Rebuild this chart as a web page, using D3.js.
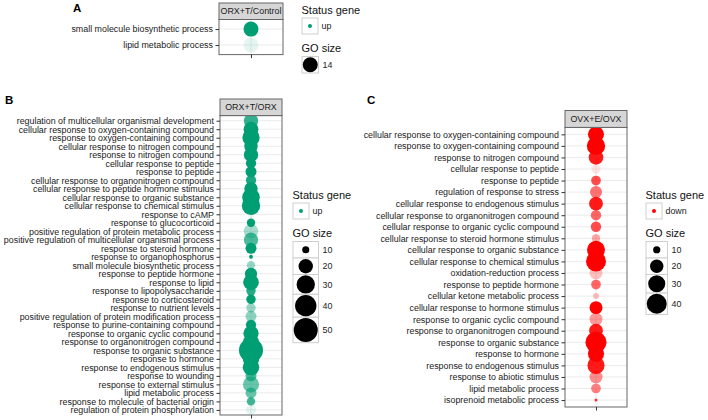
<!DOCTYPE html>
<html>
<head>
<meta charset="utf-8">
<script src="https://cdn.jsdelivr.net/npm/d3@7"></script>
<style>
body { margin: 0; background: #fff; }
svg { font-family: "Liberation Sans", Arial, sans-serif; }
</style>
</head>
<body>
<div id="chart"></div>
<script>
// data (GO size = gene count, alpha = shade of the dot)
var facetA = "ORX+T/Control";
var termsA = ["small molecule biosynthetic process", "lipid metabolic process"];
var sizeA = [14, 14];
var alphaA = [1, 0.1];
var breaksA = [14];

var facetB = "ORX+T/ORX";
var termsB = [
  "regulation of multicellular organismal development",
  "cellular response to oxygen-containing compound",
  "response to oxygen-containing compound",
  "cellular response to nitrogen compound",
  "response to nitrogen compound",
  "cellular response to peptide",
  "response to peptide",
  "cellular response to organonitrogen compound",
  "cellular response to peptide hormone stimulus",
  "cellular response to organic substance",
  "cellular response to chemical stimulus",
  "response to cAMP",
  "response to glucocorticoid",
  "positive regulation of protein metabolic process",
  "positive regulation of multicellular organismal process",
  "response to steroid hormone",
  "response to organophosphorus",
  "small molecule biosynthetic process",
  "response to peptide hormone",
  "response to lipid",
  "response to lipopolysaccharide",
  "response to corticosteroid",
  "response to nutrient levels",
  "positive regulation of protein modification process",
  "response to purine-containing compound",
  "response to organic cyclic compound",
  "response to organonitrogen compound",
  "response to organic substance",
  "response to hormone",
  "response to endogenous stimulus",
  "response to wounding",
  "response to external stimulus",
  "lipid metabolic process",
  "response to molecule of bacterial origin",
  "regulation of protein phosphorylation"
];
var sizeB = [20, 21, 27, 18, 20, 13, 14, 13, 18, 28, 30, 10, 11, 20, 20, 14, 9, 11,
  16, 23, 12, 12, 12, 14, 13, 22, 23, 50, 25, 25, 14, 24, 14, 11, 13];
var alphaB = [0.8, 1, 1, 1, 1, 1, 1, 0.9, 1, 1, 1, 0.08, 1, 0.35, 0.7, 1, 1, 0.4,
  1, 1, 0.85, 1, 0.4, 0.45, 1, 1, 1, 1, 1, 1, 0.7, 0.6, 0.6, 0.75, 0.1];
var breaksB = [10, 20, 30, 40, 50];

var facetC = "OVX+E/OVX";
var termsC = [
  "cellular response to oxygen-containing compound",
  "response to oxygen-containing compound",
  "response to nitrogen compound",
  "cellular response to peptide",
  "response to peptide",
  "regulation of response to stress",
  "cellular response to endogenous stimulus",
  "cellular response to organonitrogen compound",
  "cellular response to organic cyclic compound",
  "cellular response to steroid hormone stimulus",
  "cellular response to organic substance",
  "cellular response to chemical stimulus",
  "oxidation-reduction process",
  "response to peptide hormone",
  "cellular ketone metabolic process",
  "cellular response to hormone stimulus",
  "response to organic cyclic compound",
  "response to organonitrogen compound",
  "response to organic substance",
  "response to hormone",
  "response to endogenous stimulus",
  "response to abiotic stimulus",
  "lipid metabolic process",
  "isoprenoid metabolic process"
];
var sizeC = [27, 34, 23, 12, 13, 17, 21, 14, 14, 11, 33, 40, 19, 13, 9, 19, 19, 21,
  44, 27, 30, 19, 13, 8];
var alphaC = [1, 1, 0.9, 0.1, 0.7, 0.55, 0.9, 0.6, 0.7, 0.35, 1, 1, 0.25, 0.6, 0.25,
  1, 0.4, 0.9, 1, 1, 0.9, 0.45, 0.5, 0.8];
var breaksC = [10, 20, 30, 40];

var colorUp = "#009E73";
var colorDown = "#FF0000";

var svgWidth = 708;
var svgHeight = 420;
var labelSize = "8.9px";

var svg = d3.select("#chart")
  .append("svg")
  .attr("width", svgWidth)
  .attr("height", svgHeight);

// ggplot-like area scale: radius grows with sqrt of (value - min)
function sizeScale(sizes, rRange) {
  var lo = d3.min(sizes);
  var s = d3.scaleSqrt().domain([0, d3.max(sizes) - lo]).range(rRange);
  return function(v) { return s(Math.max(0, v - lo)); };
}

function drawPanel(p) {
  var x = d3.scalePoint().domain([p.facet]).range([p.left, p.right]).padding(0.5);
  var y = d3.scalePoint().domain(p.terms).range([p.top, p.bottom]).padding(0.6);
  var g = svg.append("g");

  g.append("rect")
    .attr("x", p.left).attr("y", p.top)
    .attr("width", p.right - p.left).attr("height", p.bottom - p.top)
    .attr("fill", "#fff");

  // grid lines
  g.selectAll(".hgrid")
    .data(p.terms)
    .enter()
    .append("line")
    .attr("x1", p.left).attr("x2", p.right)
    .attr("y1", d => y(d)).attr("y2", d => y(d))
    .attr("stroke", "#ebebeb")
    .attr("stroke-width", 1);
  g.append("line")
    .attr("x1", x(p.facet)).attr("x2", x(p.facet))
    .attr("y1", p.top).attr("y2", p.bottom)
    .attr("stroke", "#ebebeb")
    .attr("stroke-width", 1);

  // dots
  g.selectAll(".dot")
    .data(p.terms)
    .enter()
    .append("circle")
    .attr("cx", x(p.facet))
    .attr("cy", d => y(d))
    .attr("r", (d, i) => p.r(p.sizes[i]))
    .attr("fill", p.color)
    .attr("fill-opacity", (d, i) => p.alphas[i]);

  // border + strip
  g.append("rect")
    .attr("x", p.left).attr("y", p.top)
    .attr("width", p.right - p.left).attr("height", p.bottom - p.top)
    .attr("fill", "none")
    .attr("stroke", "#666");
  g.append("rect")
    .attr("x", p.left).attr("y", p.stripTop)
    .attr("width", p.right - p.left).attr("height", p.top - p.stripTop)
    .attr("fill", "#d6d6d6")
    .attr("stroke", "#666");
  g.append("text")
    .attr("x", (p.left + p.right) / 2)
    .attr("y", (p.stripTop + p.top) / 2)
    .attr("dy", "0.35em")
    .attr("text-anchor", "middle")
    .attr("font-size", labelSize)
    .attr("fill", "#1a1a1a")
    .text(p.facet);

  // axes
  var yAxis = g.append("g")
    .attr("transform", `translate(${p.left}, 0)`)
    .call(d3.axisLeft(y).tickSize(3.5).tickPadding(2.5));
  yAxis.select(".domain").remove();
  yAxis.selectAll("line").attr("stroke", "#333");
  yAxis.selectAll("text")
    .attr("font-size", labelSize)
    .attr("font-family", "Liberation Sans, Arial, sans-serif")
    .attr("fill", "#1a1a1a");

  var xAxis = g.append("g")
    .attr("transform", `translate(0, ${p.bottom})`)
    .call(d3.axisBottom(x).tickSize(3.5).tickFormat(""));
  xAxis.select(".domain").remove();
  xAxis.selectAll("line").attr("stroke", "#333");

  // panel letter
  svg.append("text")
    .attr("x", p.letterX).attr("y", p.letterY)
    .attr("font-size", "11.5px")
    .attr("font-weight", "bold")
    .attr("fill", "#000")
    .text(p.letter);
}

function drawLegend(p) {
  var g = svg.append("g");
  g.append("text")
    .attr("x", p.x).attr("y", p.y)
    .attr("dy", "0.35em")
    .attr("font-size", "11px")
    .attr("fill", "#111")
    .text("Status gene");
  g.append("rect")
    .attr("x", p.x + 0.5).attr("y", p.y + 8)
    .attr("width", 16).attr("height", 16)
    .attr("fill", "#fff")
    .attr("stroke", "#cfcfcf");
  g.append("circle")
    .attr("cx", p.x + 8.5).attr("cy", p.y + 16)
    .attr("r", 2)
    .attr("fill", p.color);
  g.append("text")
    .attr("x", p.x + 20).attr("y", p.y + 16)
    .attr("dy", "0.35em")
    .attr("font-size", labelSize)
    .attr("fill", "#222")
    .text(p.status);

  var titleY = p.y + 38.5;
  g.append("text")
    .attr("x", p.x).attr("y", titleY)
    .attr("dy", "0.35em")
    .attr("font-size", "11px")
    .attr("fill", "#111")
    .text("GO size");

  var keyH = p.breaks.map(b => Math.max(16.5, 2 * p.r(b) + 1.5));
  var keyW = d3.max(keyH);
  var top = titleY + 8;
  p.breaks.forEach(function(b, i) {
    g.append("rect")
      .attr("x", p.x + 0.5).attr("y", top)
      .attr("width", keyW).attr("height", keyH[i])
      .attr("fill", "#fff")
      .attr("stroke", "#cfcfcf");
    g.append("circle")
      .attr("cx", p.x + 0.5 + keyW / 2).attr("cy", top + keyH[i] / 2)
      .attr("r", p.r(b))
      .attr("fill", "#000");
    g.append("text")
      .attr("x", p.x + keyW + 4.5).attr("y", top + keyH[i] / 2)
      .attr("dy", "0.35em")
      .attr("font-size", labelSize)
      .attr("fill", "#222")
      .text(b);
    top += keyH[i];
  });
}

var rA = sizeScale(sizeA, [7.5, 7.5]);
var rB = sizeScale(sizeB, [2, 12]);
var rC = sizeScale(sizeC, [1.5, 10.5]);

drawPanel({ facet: facetA, terms: termsA, sizes: sizeA, alphas: alphaA, color: colorUp, r: rA,
  left: 219, right: 283, stripTop: 3, top: 19.5, bottom: 54.6,
  letter: "A", letterX: 73, letterY: 12 });
drawLegend({ x: 301.5, y: 10, color: colorUp, status: "up", breaks: breaksA, r: rA });

drawPanel({ facet: facetB, terms: termsB, sizes: sizeB, alphas: alphaB, color: colorUp, r: rB,
  left: 220, right: 282, stripTop: 99, top: 115.6, bottom: 415,
  letter: "B", letterX: 5, letterY: 104 });
drawLegend({ x: 292.5, y: 195, color: colorUp, status: "up", breaks: breaksB, r: rB });

drawPanel({ facet: facetC, terms: termsC, sizes: sizeC, alphas: alphaC, color: colorDown, r: rC,
  left: 565, right: 627, stripTop: 110.5, top: 127.4, bottom: 407,
  letter: "C", letterX: 367, letterY: 104 });
drawLegend({ x: 645.5, y: 195, color: colorDown, status: "down", breaks: breaksC, r: rC });
</script>
</body>
</html>
